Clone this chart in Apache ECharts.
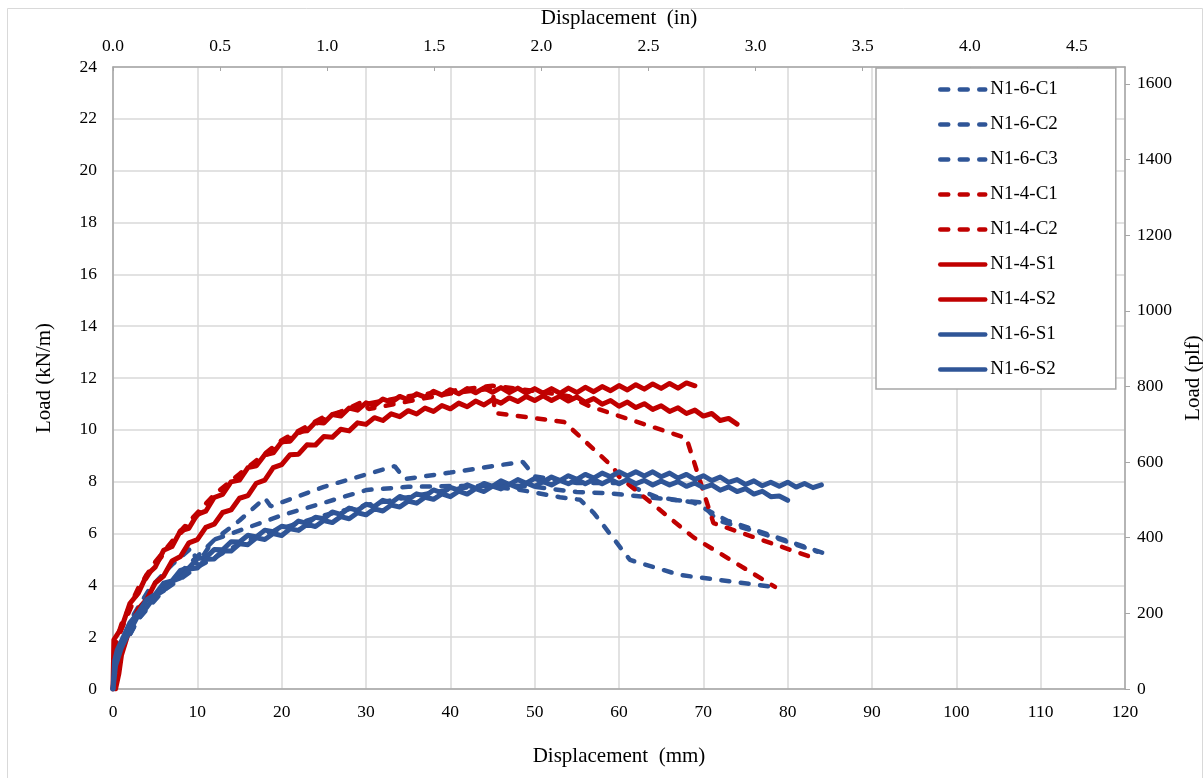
<!DOCTYPE html>
<html>
<head>
<meta charset="utf-8">
<script src="https://cdn.jsdelivr.net/npm/echarts@6/dist/echarts.min.js"></script>
<style>
  html, body { margin: 0; padding: 0; background: #fff; overflow: hidden; }
  #chart { width: 1203px; height: 778px; }
</style>
</head>
<body>
<div id="chart"></div>
<script>
// displacement (mm), load (kN/m)
const N16C1 = [[0,0],[0.3,1.0],[1,1.8],[2.5,2.9],[4.4,3.9],[7,4.8],[9.3,5.45],[9.8,5.05],[12,5.75],[15,6.5],[18,7.37],[18.7,7.05],[25,7.8],[33.4,8.6],[34.6,8.1],[40,8.35],[45.9,8.64],[48.6,8.76],[50,8.2],[55,7.95],[60.5,7.95],[64.5,7.4],[68.8,7.2],[72.8,6.5],[84.2,5.25]];
const N16C2 = [[0,0],[0.3,0.9],[1,1.5],[3,2.7],[6,3.9],[8,4.5],[9.6,5.0],[10,4.8],[11.9,5.75],[20,6.7],[30.1,7.68],[35,7.8],[43.5,7.85],[48,7.7],[53,7.4],[55.4,7.3],[57,6.8],[61.3,4.98],[67.2,4.4],[72,4.2],[78,3.95]];
const N16C3 = [[0,0],[1,1.5],[3,2.7],[6,3.8],[10,4.7],[15,5.6],[20,6.2],[25,6.7],[30,7.1],[35,7.4],[40,7.7],[45,7.9],[50,7.8],[55,7.6],[58.6,7.56],[68,7.25],[69.6,7.2],[71.7,6.5],[76,6.1],[83.5,5.3]];
const N14C1 = [[0,0],[0.2,1.6],[1,2.3],[3,3.8],[5,4.8],[8,6.0],[10,6.7],[12,7.4],[15,8.2],[20,9.5],[25,10.4],[29.7,11.1],[30.3,10.8],[35,11.1],[40,11.4],[45,11.6],[45.3,10.65],[53.5,10.3],[59.3,8.56],[60,8.2],[68.8,5.86],[78.5,3.94]];
const N14C2 = [[0,0],[0.3,1.8],[1,2.5],[3,3.9],[5,4.9],[8,6.1],[10,6.8],[12,7.5],[15,8.3],[20,9.6],[25,10.5],[30,11.0],[35,11.3],[40,11.5],[45,11.7],[50,11.5],[54,11.3],[56.6,10.9],[68,9.68],[71.2,6.4],[82.7,5.1]];
const N14S1 = [[0.3,0],[0.7,0.6],[1,1.3],[2,2.35],[3,3.09],[4,3.46],[5,4.09],[6,4.36],[7,4.94],[8,5.11],[9,5.64],[10,5.76],[11,6.24],[12,6.36],[13,6.81],[14,6.91],[15,7.36],[16,7.46],[17,7.94],[18,8.06],[19,8.54],[20,8.66],[21,9.04],[22,9.06],[23,9.42],[24,9.41],[25,9.74],[26,9.71],[27,10.02],[28,9.96],[29,10.27],[30,10.21],[31,10.47],[32,10.36],[33,10.62],[34,10.51],[35,10.74],[36,10.61],[37,10.84],[38,10.71],[39,10.94],[40,10.81],[41,11.03],[42,10.89],[43,11.11],[44,10.96],[45,11.17],[46,11.03],[47,11.24],[48,11.09],[49,11.29],[50,11.13],[51,11.31],[52,11.13],[53,11.3],[54,11.11],[55,11.27],[56,11.06],[57,11.21],[58,10.99],[59,11.13],[60,10.91],[61,11.07],[62,10.86],[63,11.01],[64,10.79],[65,10.93],[66,10.71],[67,10.85],[68,10.63],[69,10.76],[70,10.53],[71,10.63],[72,10.36],[73,10.44],[74,10.22]];
const N14S2 = [[0,0],[0.1,1.9],[1,2.35],[2,3.3],[3,3.7],[4,4.4],[5,4.7],[6,5.35],[7,5.5],[8,6.1],[9,6.2],[10,6.74],[11,6.86],[12,7.39],[13,7.51],[14,7.99],[15,8.06],[16,8.54],[17,8.61],[18,9.04],[19,9.11],[20,9.54],[21,9.56],[22,9.94],[23,9.96],[24,10.29],[25,10.26],[26,10.59],[27,10.53],[28,10.84],[29,10.76],[30,11.04],[31,10.94],[32,11.19],[33,11.06],[34,11.29],[35,11.16],[36,11.39],[37,11.26],[38,11.49],[39,11.34],[40,11.55],[41,11.39],[42,11.59],[43,11.43],[44,11.62],[45,11.45],[46,11.63],[47,11.44],[48,11.61],[49,11.42],[50,11.59],[51,11.41],[52,11.59],[53,11.41],[54,11.61],[55,11.44],[56,11.64],[57,11.47],[58,11.67],[59,11.51],[60,11.71],[61,11.54],[62,11.74],[63,11.57],[64,11.77],[65,11.6],[66,11.79],[67,11.61],[68,11.81],[69,11.7]];
const N16S1 = [[0,0],[0.2,1.1],[0.5,1.5],[1,1.85],[2,2.55],[3,2.95],[4,3.45],[5,3.65],[6,4.08],[7,4.17],[8,4.58],[9,4.67],[10,5.03],[11,5.07],[12,5.38],[13,5.37],[14,5.68],[15,5.67],[16,5.93],[17,5.87],[18,6.13],[19,6.07],[20,6.28],[21,6.22],[22,6.48],[23,6.39],[24,6.63],[25,6.57],[26,6.83],[27,6.74],[28,6.98],[29,6.89],[30,7.13],[31,7.04],[32,7.28],[33,7.19],[34,7.43],[35,7.32],[36,7.53],[37,7.44],[38,7.68],[39,7.57],[40,7.78],[41,7.67],[42,7.88],[43,7.74],[44,7.93],[45,7.82],[46,8.03],[47,7.89],[48,8.08],[49,7.94],[50,8.13],[51,7.99],[52,8.18],[53,8.04],[54,8.23],[55,8.09],[56,8.28],[57,8.14],[58,8.33],[59,8.19],[60,8.38],[61,8.22],[62,8.38],[63,8.22],[64,8.38],[65,8.19],[66,8.33],[67,8.14],[68,8.28],[69,8.09],[70,8.23],[71,8.04],[72,8.18],[73,7.97],[74,8.08],[75,7.89],[76,8.03],[77,7.84],[78,7.98],[79,7.82],[80,7.98],[81,7.79],[82,7.93],[83,7.77],[84,7.88]];
const N16S2 = [[0,0],[0.3,0.9],[1,1.6],[2,2.25],[3,2.85],[4,3.15],[5,3.6],[6,3.8],[7,4.16],[8,4.29],[9,4.63],[10,4.67],[11,5.01],[12,5.02],[13,5.33],[14,5.32],[15,5.6],[16,5.57],[17,5.83],[18,5.77],[19,6.0],[20,5.92],[21,6.18],[22,6.12],[23,6.35],[24,6.27],[25,6.5],[26,6.42],[27,6.65],[28,6.57],[29,6.8],[30,6.72],[31,6.95],[32,6.87],[33,7.1],[34,7.02],[35,7.25],[36,7.17],[37,7.4],[38,7.32],[39,7.53],[40,7.42],[41,7.63],[42,7.52],[43,7.73],[44,7.62],[45,7.83],[46,7.72],[47,7.9],[48,7.77],[49,7.95],[50,7.82],[51,8.0],[52,7.87],[53,8.05],[54,7.92],[55,8.08],[56,7.92],[57,8.08],[58,7.92],[59,8.08],[60,7.92],[61,8.08],[62,7.92],[63,8.05],[64,7.87],[65,8.03],[66,7.87],[67,8.0],[68,7.82],[69,7.95],[70,7.77],[71,7.88],[72,7.67],[73,7.8],[74,7.62],[75,7.73],[76,7.52],[77,7.63],[78,7.42],[79,7.45],[80,7.28]];

const seriesNames = ['N1-6-C1','N1-6-C2','N1-6-C3','N1-4-C1','N1-4-C2','N1-4-S1','N1-4-S2','N1-6-S1','N1-6-S2'];
const seriesData = [N16C1, N16C2, N16C3, N14C1, N14C2, N14S1, N14S2, N16S1, N16S2];

const BLUE = '#2F5597';
const RED = '#C00000';
const FONT = 'Liberation Serif';
const KN_TO_PLF = 68.5218;
const MM_TO_IN = 1 / 25.4;
const X_MAX = 120, Y_MAX = 24;

const chart = echarts.init(document.getElementById('chart'), null, {renderer: 'canvas', width: 1203, height: 778});

const series = seriesNames.map((name, i) => {
    const dashed = name.indexOf('-C') > 0;
    const color = name.indexOf('N1-4') === 0 ? RED : BLUE;
    return {
        name: name,
        type: 'line',
        data: seriesData[i],
        symbol: 'none',
        xAxisIndex: 0,
        yAxisIndex: 0,
        color: color,
        lineStyle: dashed
            ? {color: color, width: 4.5, type: [8, 11.5], cap: 'round'}
            : {color: color, width: 5, join: 'round', cap: 'round'},
        emphasis: {disabled: true}
    };
});

const labelFont = {fontFamily: FONT, fontSize: 17.5, color: '#000'};
const titleFont = {fontFamily: FONT, fontSize: 21, color: '#000'};
const axisLine = {show: true, onZero: false, lineStyle: {color: '#a6a6a6', width: 1.5}};

chart.setOption({
    animation: false,
    backgroundColor: '#fff',
    graphic: [{
        type: 'rect', left: 5, top: 6, z: -10,
        shape: {width: 1195, height: 800},
        style: {fill: 'none', stroke: '#d9d9d9', lineWidth: 1}
    }],
    // v6 would otherwise shrink the grid to keep the right-hand title inside
    grid: {left: 113, right: 78, top: 67, bottom: 89, containLabel: false, outerBoundsMode: 'none'},
    legend: {
        orient: 'vertical',
        left: 876, top: 68,
        padding: [12, 58, 10, 62],
        itemWidth: 45, itemHeight: 14, itemGap: 16, itemTextGap: 3,
        backgroundColor: '#fff',
        borderColor: '#a6a6a6', borderWidth: 1.5,
        itemStyle: {opacity: 0},
        lineStyle: {width: 4.5, cap: 'round'},
        textStyle: {fontFamily: FONT, fontSize: 19, color: '#000'},
        data: seriesNames
    },
    xAxis: [{
        type: 'value', position: 'bottom', min: 0, max: X_MAX, interval: 10,
        name: 'Displacement  (mm)', nameLocation: 'middle', nameGap: 57,
        nameTextStyle: titleFont,
        axisLine: axisLine, axisTick: {show: false},
        axisLabel: Object.assign({margin: 14}, labelFont),
        splitLine: {show: true, lineStyle: {color: '#d9d9d9', width: 1.5}}
    }, {
        type: 'value', position: 'top', min: 0, max: X_MAX * MM_TO_IN, interval: 0.5,
        name: 'Displacement  (in)', nameLocation: 'middle', nameGap: 38,
        nameTextStyle: titleFont,
        axisLine: axisLine,
        axisTick: {show: true, inside: true, length: 4, lineStyle: {color: '#a6a6a6'}},
        axisLabel: Object.assign({margin: 12, showMaxLabel: false, formatter: v => v.toFixed(1)}, labelFont),
        splitLine: {show: false}
    }],
    yAxis: [{
        type: 'value', position: 'left', min: 0, max: Y_MAX, interval: 2,
        name: 'Load (kN/m)', nameLocation: 'middle', nameGap: 58, nameRotate: 90,
        nameTextStyle: titleFont,
        axisLine: axisLine, axisTick: {show: false},
        axisLabel: Object.assign({margin: 16}, labelFont),
        splitLine: {show: true, lineStyle: {color: '#d9d9d9', width: 1.5}}
    }, {
        type: 'value', position: 'right', min: 0, max: Y_MAX * KN_TO_PLF, interval: 200,
        name: 'Load (plf)', nameLocation: 'middle', nameGap: 56, nameRotate: 90,
        nameTextStyle: titleFont,
        axisLine: axisLine,
        axisTick: {show: true, length: 5, lineStyle: {color: '#a6a6a6'}},
        axisLabel: Object.assign({margin: 12, showMaxLabel: false, formatter: v => String(v)}, labelFont),
        splitLine: {show: false}
    }],
    series: series
});
</script>
</body>
</html>
